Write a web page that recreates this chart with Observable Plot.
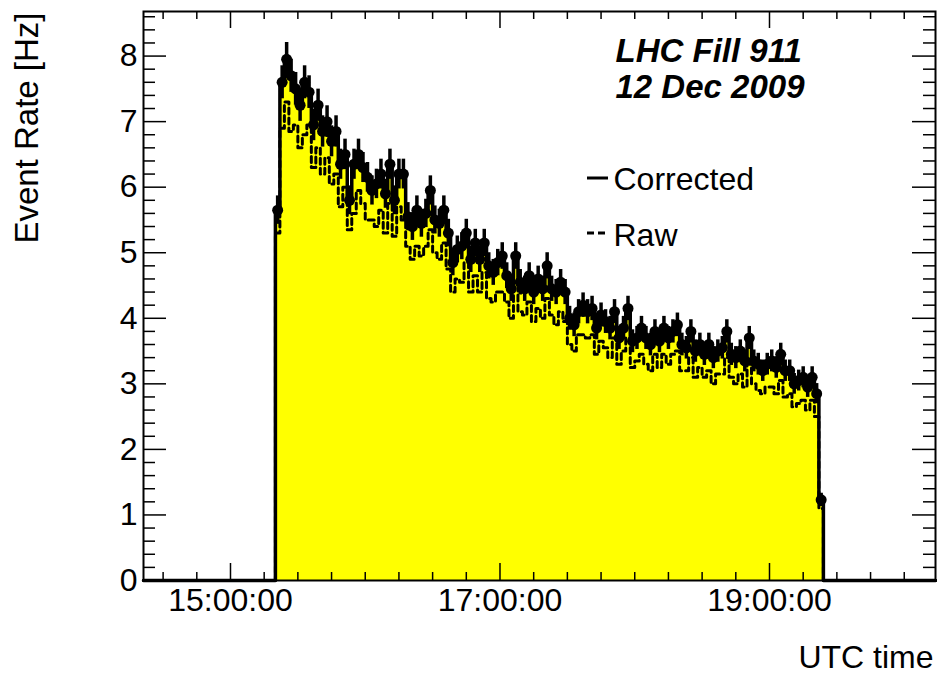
<!DOCTYPE html>
<html>
<head>
<meta charset="utf-8">
<script src="https://cdn.jsdelivr.net/npm/d3@7"></script>
<script src="https://cdn.jsdelivr.net/npm/@observablehq/plot@0.6"></script>
<style>
  html, body { margin: 0; padding: 0; background: #fff; }
  #chart svg { display: block; }
</style>
</head>
<body>
<div id="chart"></div>
<script>
// ---- Data ----
const fillStart = Date.UTC(2009, 11, 12, 15, 20, 0);   // first non-empty bin
const binMinutes = 2;                                    // bin width
const corrected = [
  5.65, 7.6, 7.95, 7.7, 7.5, 7.25, 7.6, 7.45, 6.95, 7.25,
  6.85, 7.0, 6.7, 6.85, 6.35, 6.5, 5.8, 6.35, 6.5, 6.3,
  6.15, 5.95, 6.05, 6.2, 5.9, 6.35, 5.8, 6.2, 6.2, 5.55,
  5.4, 5.65, 5.45, 5.6, 5.95, 5.5, 5.45, 5.65, 5.3, 4.85,
  5.05, 5.1, 5.3, 4.9, 5.15, 4.9, 5.15, 4.8, 4.7, 4.85,
  4.95, 4.65, 4.45, 4.95, 4.55, 4.45, 4.65, 4.4, 4.6, 4.45,
  4.8, 4.45, 4.4, 4.55, 4.4, 4.0, 3.9, 4.1, 4.2, 4.1,
  4.15, 3.85, 4.05, 3.95, 3.85, 4.1, 3.7, 3.85, 4.15, 3.65,
  3.7, 3.85, 3.7, 3.6, 3.8, 3.65, 3.85, 3.7, 3.8, 3.9,
  3.6, 3.55, 3.8, 3.5, 3.6, 3.45, 3.6, 3.4, 3.5, 3.55,
  3.8, 3.45, 3.4, 3.5, 3.35, 3.7, 3.35, 3.3, 3.2, 3.3,
  3.35, 3.25, 3.45, 3.2, 3.2, 3.0, 3.05, 3.1, 2.95, 3.1,
  2.85, 1.23
];
const raw = [
  5.3, 6.9, 7.3, 6.85, 6.95, 6.6, 6.8, 6.95, 6.3, 6.6,
  6.2, 6.45, 6.05, 6.2, 5.7, 6.0, 5.35, 5.6, 5.95, 5.75,
  5.5, 5.5, 5.4, 5.65, 5.3, 5.75, 5.25, 5.7, 5.5, 5.1,
  4.9, 5.1, 4.95, 5.1, 5.35, 5.0, 4.9, 5.15, 4.75, 4.4,
  4.6, 4.55, 4.85, 4.4, 4.65, 4.4, 4.7, 4.3, 4.25, 4.4,
  4.4, 4.25, 4.0, 4.5, 4.1, 4.05, 4.25, 3.95, 4.15, 4.0,
  4.3, 4.05, 3.9, 4.1, 3.95, 3.6, 3.5, 3.75, 3.75, 3.7,
  3.75, 3.45, 3.65, 3.55, 3.4, 3.7, 3.3, 3.5, 3.7, 3.25,
  3.35, 3.45, 3.3, 3.2, 3.45, 3.25, 3.45, 3.3, 3.45, 3.5,
  3.2, 3.2, 3.4, 3.1, 3.25, 3.1, 3.2, 3.0, 3.15, 3.15,
  3.4, 3.1, 3.0, 3.15, 2.95, 3.3, 3.0, 2.9, 2.85, 2.95,
  2.95, 2.85, 3.05, 2.8, 2.85, 2.65, 2.7, 2.75, 2.6, 2.75,
  2.5, 1.1
];
const xTickLabels = ["15:00:00", "17:00:00", "19:00:00"];
const yTickLabels = [0, 1, 2, 3, 4, 5, 6, 7, 8];
const xDomainLabels = ["14:21:16", "20:13:55"];
const yMax = 8.68;
const titleLines = ["LHC Fill 911", "12 Dec 2009"];
const legendLabels = ["Corrected", "Raw"];
const xTitle = "UTC time";
const yTitle = "Event Rate [Hz]";

// ---- Derived structures ----
const day = (s) => { const [h, m, sec] = s.split(":").map(Number); return new Date(Date.UTC(2009, 11, 12, h, m, sec)); };
const xDomain = xDomainLabels.map(day);
const binMs = binMinutes * 60 * 1000;
const bins = corrected.map((v, i) => ({
  t0: new Date(fillStart + i * binMs),
  t1: new Date(fillStart + (i + 1) * binMs),
  tm: new Date(fillStart + (i + 0.5) * binMs),
  v,
  err: Math.sqrt(v / (binMinutes * 60)),   // Poisson error of counts in a bin, as a rate
  raw: raw[i]
}));
const fillEnd = new Date(fillStart + corrected.length * binMs);
function outline(key) {
  return [
    {t: xDomain[0], v: 0},
    ...bins.map(b => ({t: b.t0, v: b[key]})),
    {t: fillEnd, v: 0},
    {t: xDomain[1], v: 0}
  ];
}
const corrLine = outline("v");
const rawLine = outline("raw");
const majorX = xTickLabels.map(day);
const minorX = d3.utcMinute.every(15).range(xDomain[0], xDomain[1]).filter(d => !majorX.some(m => +m === +d));
const minorY = d3.range(0, 44).map(i => i * 0.2).filter(v => v <= yMax && Math.abs(v - Math.round(v)) > 1e-6);

const W = 937, H = 676, mL = 143, mR = 2, mT = 11, mB = 96;
const innerW = W - mL - mR, innerH = H - mT - mB;
const FONT = "'Liberation Sans', Arial, Helvetica, sans-serif";

function legendSwatches() {
  const g = d3.create("svg:g");
  g.append("line").attr("x1", 587).attr("x2", 608).attr("y1", 178).attr("y2", 178)
    .attr("stroke", "black").attr("stroke-width", 3);
  g.append("line").attr("x1", 587).attr("x2", 606).attr("y1", 233).attr("y2", 233)
    .attr("stroke", "black").attr("stroke-width", 3).attr("stroke-dasharray", "7,4");
  return g.node();
}

const chart = Plot.plot({
  width: W, height: H,
  marginLeft: mL, marginRight: mR, marginTop: mT, marginBottom: mB,
  style: {fontFamily: FONT, background: "white", color: "black"},
  x: {type: "utc", domain: xDomain},
  y: {domain: [0, yMax]},
  marks: [
    // filled corrected histogram
    Plot.areaY(corrLine, {x: "t", y: "v", curve: "step-after", fill: "#ffff00"}),
    // raw histogram (dashed)
    Plot.line(rawLine, {x: "t", y: "v", curve: "step-after", stroke: "black", strokeWidth: 3, strokeDasharray: "6,4"}),
    // corrected histogram outline
    Plot.line(corrLine, {x: "t", y: "v", curve: "step-after", stroke: "black", strokeWidth: 3.5}),
    // error bars and markers
    Plot.ruleX(bins, {x: "tm", y1: d => d.v - d.err, y2: d => d.v + d.err, stroke: "black", strokeWidth: 3.5}),
    Plot.dot(bins, {x: "tm", y: "v", r: 5.5, fill: "black", stroke: null}),
    // frame
    Plot.frame({stroke: "black", strokeWidth: 2}),
    // ticks (ROOT style, inward on all four sides)
    Plot.tickX(majorX, {x: d => d, insetTop: innerH - 17, stroke: "black", strokeWidth: 1.5}),
    Plot.tickX(minorX, {x: d => d, insetTop: innerH - 8, stroke: "black", strokeWidth: 1.5}),
    Plot.tickX(majorX, {x: d => d, insetBottom: innerH - 17, stroke: "black", strokeWidth: 1.5}),
    Plot.tickX(minorX, {x: d => d, insetBottom: innerH - 8, stroke: "black", strokeWidth: 1.5}),
    Plot.tickY(yTickLabels, {y: d => d, insetRight: innerW - 23, stroke: "black", strokeWidth: 1.5}),
    Plot.tickY(minorY, {y: d => d, insetRight: innerW - 12, stroke: "black", strokeWidth: 1.5}),
    Plot.tickY(yTickLabels, {y: d => d, insetLeft: innerW - 23, stroke: "black", strokeWidth: 1.5}),
    Plot.tickY(minorY, {y: d => d, insetLeft: innerW - 12, stroke: "black", strokeWidth: 1.5}),
    // tick labels
    Plot.axisX(majorX, {tickSize: 0, tickPadding: 8, tickFormat: d3.utcFormat("%H:%M:%S"), fontSize: 32, label: null}),
    Plot.axisY(yTickLabels, {tickSize: 0, tickPadding: 6, tickFormat: d => String(d), fontSize: 32, label: null}),
    // axis titles
    Plot.text([xTitle], {text: d => d, frameAnchor: "bottom-right", dx: -2, dy: 87, textAnchor: "end", lineAnchor: "bottom", fontSize: 32}),
    Plot.text([yTitle], {text: d => d, frameAnchor: "top-left", dx: -106, dy: 1, rotate: -90, textAnchor: "end", lineAnchor: "bottom", fontSize: 33}),
    // fill annotation
    Plot.text([titleLines[0]], {text: d => d, frameAnchor: "top-left", dx: 472, dy: 50, textAnchor: "start", lineAnchor: "bottom", fontSize: 33, fontWeight: "bold", fontStyle: "italic"}),
    Plot.text([titleLines[1]], {text: d => d, frameAnchor: "top-left", dx: 472, dy: 86, textAnchor: "start", lineAnchor: "bottom", fontSize: 33, fontWeight: "bold", fontStyle: "italic"}),
    // legend
    Plot.text([legendLabels[0]], {text: d => d, frameAnchor: "top-left", dx: 470, dy: 178, textAnchor: "start", lineAnchor: "bottom", fontSize: 32}),
    Plot.text([legendLabels[1]], {text: d => d, frameAnchor: "top-left", dx: 470, dy: 234, textAnchor: "start", lineAnchor: "bottom", fontSize: 32}),
    legendSwatches
  ]
});
document.getElementById("chart").appendChild(chart);
</script>
</body>
</html>
